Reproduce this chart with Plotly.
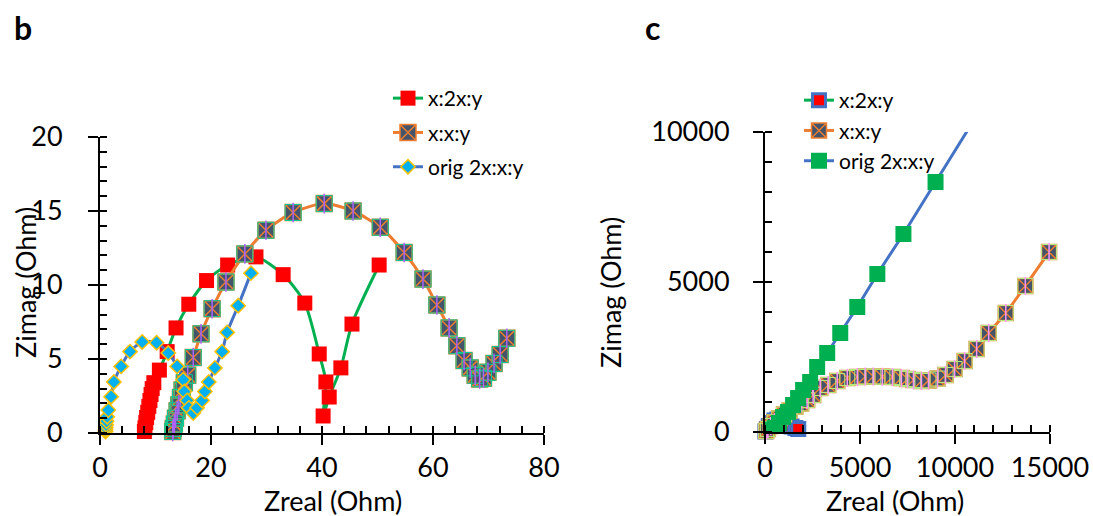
import plotly.graph_objects as go

W, H = 1093, 516
FONT = "Lato"

# ---------------- Panel b data (Ohm) ----------------
b_names = ["x:2x:y", "x:x:y", "orig 2x:x:y"]

b1_x = [8.0, 8.1, 8.25, 8.4, 8.6, 8.8, 9.0, 9.2, 9.4, 9.7, 10.7, 12.1, 13.7, 16.0, 19.2, 23.0, 28.1,
        33.0, 36.9, 39.5, 40.7, 40.2, 41.3, 43.4, 45.4, 50.3]
b1_y = [0.1, 0.35, 0.7, 1.05, 1.4, 1.8, 2.2, 2.6, 3.0, 3.4, 4.25, 5.5, 7.1, 8.7, 10.3, 11.35, 11.9,
        10.7, 8.78, 5.34, 3.45, 1.15, 2.43, 4.4, 7.36, 11.35]

b2_x = [13.1, 13.2, 13.4, 13.6, 13.9, 14.2, 14.5, 14.8, 15.2, 15.8, 16.8, 18.2, 20.2, 22.7, 26.1, 29.9,
        34.8, 40.4, 45.6, 50.5, 54.8, 58.2, 60.7, 62.9, 64.3, 65.6, 66.7, 67.6, 68.4, 69.1, 69.9, 71.0,
        72.1, 73.3]
b2_y = [0.1, 0.3, 0.6, 1.0, 1.5, 1.9, 2.4, 2.9, 3.4, 3.9, 5.1, 6.7, 8.4, 10.2, 12.1, 13.7,
        14.9, 15.5, 15.0, 13.9, 12.2, 10.4, 8.65, 7.1, 5.9, 4.9, 4.4, 3.9, 3.65, 3.7, 4.1, 4.7,
        5.3, 6.4]

b3_x = [1.0, 1.0, 1.05, 1.1, 1.2, 1.3, 1.5, 2.0, 2.5, 3.8, 5.4, 7.6, 10.2, 12.3, 13.9, 15.0, 15.2,
        15.7, 16.0, 16.8, 17.5, 18.4, 18.9, 19.6, 20.7, 22.0, 22.9, 24.9, 27.2]
b3_y = [0.1, 0.2, 0.35, 0.55, 0.8, 1.1, 1.55, 2.45, 3.45, 4.5, 5.5, 6.15, 6.1, 5.4, 4.5, 3.6, 2.8,
        2.2, 1.7, 1.35, 1.7, 2.2, 2.8, 3.45, 4.4, 5.5, 6.8, 8.6, 10.8]

# ---------------- Panel c data (Ohm) ----------------
c_names = ["x:2x:y", "x:x:y", "orig 2x:x:y"]

c1_x = [20, 100, 200, 350, 500, 650, 800, 1000, 1200, 1400, 1600, 1750]
c1_y = [20, 100, 200, 300, 380, 420, 400, 330, 250, 180, 130, 100]

c2_x = [60, 150, 300, 500, 750, 1000, 1300, 1600, 1900, 2217, 2534, 2904, 3326, 3802, 4330, 4858,
        5280, 5702, 6177, 6705, 7180, 7497, 7814, 8236, 8606, 9081, 9504, 9979, 10507, 11140,
        11774, 12672, 13700, 14950]
c2_y = [30, 100, 200, 320, 450, 580, 720, 850, 950, 1067, 1233, 1467, 1567, 1700, 1800, 1833,
        1850, 1850, 1840, 1833, 1800, 1767, 1733, 1700, 1720, 1780, 1900, 2100, 2367, 2767,
        3300, 3967, 4867, 6000]

c3_x = [100, 250, 400, 528, 739, 950, 1214, 1478, 1742, 2006, 2376, 2745, 3273, 3960, 4857, 5913,
        7286, 8976, 11000]
c3_y = [20, 50, 80, 133, 300, 500, 667, 900, 1133, 1400, 1667, 2167, 2633, 3300, 4167, 5267,
        6600, 8333, 10400]

b_xticks = [0, 20, 40, 60, 80]
b_yticks = [0, 5, 10, 15, 20]
c_xticks = [0, 5000, 10000, 15000]
c_yticks = [0, 5000, 10000]

GREEN, RED, ORANGE, SLATE = "#00B050", "#FF0000", "#ED7D31", "#44546A"
BLUE, CYAN, GOLD = "#4472C4", "#00B0F0", "#FFC000"
EDGE = "#A3AEBE"

fig = go.Figure()

# ---- panel b traces ----
fig.add_trace(go.Scatter(x=b1_x, y=b1_y, name=b_names[0], mode="lines+markers", legendgroup="b1",
                         line=dict(color=GREEN, width=3, shape="spline", smoothing=0.7),
                         marker=dict(symbol="square", size=15, color=RED, line=dict(width=0)),
                         xaxis="x", yaxis="y", legend="legend", cliponaxis=False))
fig.add_trace(go.Scatter(x=b2_x, y=b2_y, name=b_names[1], mode="lines+markers", legendgroup="b2",
                         line=dict(color=ORANGE, width=3, shape="spline", smoothing=0.7),
                         marker=dict(symbol="square-x", size=16, color=SLATE,
                                     line=dict(width=1.5, color=ORANGE)),
                         xaxis="x", yaxis="y", legend="legend", cliponaxis=False))
fig.add_trace(go.Scatter(x=b2_x, y=b2_y, mode="markers", showlegend=False, hoverinfo="skip",
                         marker=dict(symbol="square-open", size=16, line=dict(width=1, color=EDGE)),
                         xaxis="x", yaxis="y", cliponaxis=False))
fig.add_trace(go.Scatter(x=b2_x, y=b2_y, mode="markers", showlegend=False, hoverinfo="skip",
                         marker=dict(symbol="line-ns-open", size=14, line=dict(width=1.5, color=ORANGE)),
                         xaxis="x", yaxis="y", cliponaxis=False))
fig.add_trace(go.Scatter(x=b3_x, y=b3_y, name=b_names[2], mode="lines+markers", legendgroup="b3",
                         line=dict(color=BLUE, width=3, shape="spline", smoothing=0.7),
                         marker=dict(symbol="diamond", size=11, color=CYAN, line=dict(width=1.5, color=GOLD)),
                         xaxis="x", yaxis="y", legend="legend", cliponaxis=False))

# ---- panel c traces ----
fig.add_trace(go.Scatter(x=c1_x, y=c1_y, name=c_names[0], mode="lines+markers",
                         line=dict(color=GREEN, width=3),
                         marker=dict(symbol="square", size=13, color=RED, line=dict(width=3, color=BLUE)),
                         xaxis="x2", yaxis="y2", legend="legend2", cliponaxis=False))
fig.add_trace(go.Scatter(x=c2_x, y=c2_y, name=c_names[1], mode="lines+markers",
                         line=dict(color=ORANGE, width=3, shape="spline", smoothing=0.6),
                         marker=dict(symbol="square-x", size=15, color=SLATE,
                                     line=dict(width=1.5, color=ORANGE)),
                         xaxis="x2", yaxis="y2", legend="legend2", cliponaxis=False))
fig.add_trace(go.Scatter(x=c2_x, y=c2_y, mode="markers", showlegend=False, hoverinfo="skip",
                         marker=dict(symbol="square-open", size=15, line=dict(width=1, color=EDGE)),
                         xaxis="x2", yaxis="y2", cliponaxis=False))
fig.add_trace(go.Scatter(x=c2_x, y=c2_y, mode="markers", showlegend=False, hoverinfo="skip",
                         marker=dict(symbol="line-ns-open", size=13, line=dict(width=1.5, color=ORANGE)),
                         xaxis="x2", yaxis="y2", cliponaxis=False))
fig.add_trace(go.Scatter(x=c3_x, y=c3_y, name=c_names[2], mode="lines+markers",
                         line=dict(color=BLUE, width=3),
                         marker=dict(symbol="square", size=16, color=GREEN, line=dict(width=0)),
                         xaxis="x2", yaxis="y2", legend="legend2", cliponaxis=True))

tickfont = dict(family=FONT, size=27, color="black")


def main_axis(domain, rng, ticks, minor_dtick, anchor, standoff):
    return dict(domain=domain, range=rng, anchor=anchor, tickmode="array", tickvals=ticks,
                ticktext=[str(t) for t in ticks], showline=True, linecolor="black", linewidth=2,
                ticks="outside", ticklen=10, tickwidth=2, tickcolor="black",
                minor=dict(ticks="inside", ticklen=7, tickwidth=1.5, tickcolor="black", dtick=minor_dtick),
                showgrid=False, zeroline=False, tickfont=tickfont, ticklabelstandoff=standoff,
                automargin=False, fixedrange=True)


def inner_axis(overlay, rng, ticks, anchor):
    return dict(overlaying=overlay, range=rng, anchor=anchor, tickmode="array", tickvals=ticks,
                showticklabels=False, showline=False, ticks="inside", ticklen=7, tickwidth=2,
                tickcolor="black", showgrid=False, zeroline=False, automargin=False, fixedrange=True)


bx_dom = [100 / W, 544 / W]
by_dom = [83 / H, 379 / H]
cx_dom = [765 / W, 1050 / W]
cy_dom = [84 / H, 384 / H]

legfont = dict(family=FONT, size=21, color="black")

fig.update_layout(
    width=W, height=H, margin=dict(l=0, r=0, t=0, b=0, autoexpand=False),
    paper_bgcolor="white", plot_bgcolor="rgba(0,0,0,0)",
    font=dict(family=FONT, color="black"),
    xaxis=main_axis(bx_dom, [0, 80], b_xticks, 4, "y", 0),
    yaxis=main_axis(by_dom, [0, 20], b_yticks, 1, "x", 20),
    xaxis2=main_axis(cx_dom, [0, 15000], c_xticks, 1000, "y2", 1),
    yaxis2=main_axis(cy_dom, [0, 10000], c_yticks, 1000, "x2", 18),
    xaxis3=inner_axis("x", [0, 80], b_xticks, "y"),
    yaxis3=inner_axis("y", [0, 20], b_yticks, "x"),
    xaxis4=inner_axis("x2", [0, 15000], c_xticks, "y2"),
    yaxis4=inner_axis("y2", [0, 10000], c_yticks, "x2"),
    legend=dict(x=388 / W, y=1 - 78 / H, xanchor="left", yanchor="top", font=legfont,
                bgcolor="rgba(0,0,0,0)", tracegroupgap=4, itemsizing="trace"),
    legend2=dict(x=799 / W, y=1 - 80 / H, xanchor="left", yanchor="top", font=legfont,
                 bgcolor="rgba(0,0,0,0)", tracegroupgap=0, itemsizing="trace"),
    showlegend=True,
)

titlefont = dict(family=FONT, size=27, color="black")
annos = [
    dict(text="Zreal (Ohm)", x=333 / W, y=1 - 500 / H),
    dict(text="Zreal (Ohm)", x=895 / W, y=1 - 500 / H),
    dict(text="Zimag (Ohm)", x=25 / W, y=1 - 283 / H, textangle=-90),
    dict(text="Zimag (Ohm)", x=610 / W, y=1 - 293 / H, textangle=-90),
]
for a in annos:
    fig.add_annotation(xref="paper", yref="paper", xanchor="center", yanchor="middle",
                       showarrow=False, font=titlefont, **a)

fig.add_annotation(text="<b>b</b>", x=23 / W, y=1 - 28 / H, xref="paper", yref="paper",
                   xanchor="center", yanchor="middle", showarrow=False,
                   font=dict(family=FONT, size=32, color="black"))
fig.add_annotation(text="<b>c</b>", x=652 / W, y=1 - 28 / H, xref="paper", yref="paper",
                   xanchor="center", yanchor="middle", showarrow=False,
                   font=dict(family=FONT, size=32, color="black"))

fig.write_html("out.html")
